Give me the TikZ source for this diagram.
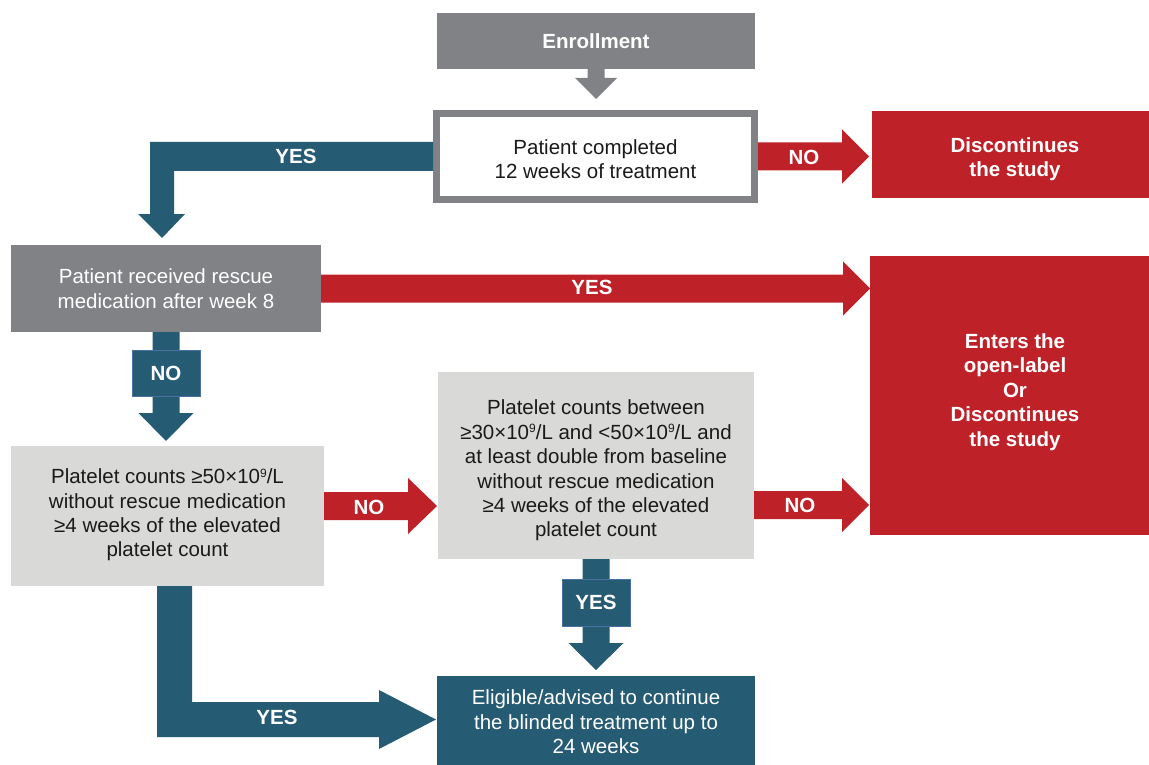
\documentclass[tikz,border=0pt]{standalone}
\usepackage{fontspec}
\setmainfont{Liberation Sans}
\usetikzlibrary{calc}
\definecolor{grayc}{HTML}{818286}
\definecolor{lightc}{HTML}{D9D9D8}
\definecolor{tealc}{HTML}{265B74}
\definecolor{redc}{HTML}{BE2128}
\definecolor{textc}{HTML}{1A1A1A}
\definecolor{labedge}{HTML}{4A72A0}
\newcommand\harr[6]{\fill[#1] let \p1=(#2), \p2=(#3) in (\x1,\y1+#4) -- (\x2-#6,\y1+#4) -- (\x2-#6,\y1+#5) -- (\x2,\y1) -- (\x2-#6,\y1-#5) -- (\x2-#6,\y1-#4) -- (\x1,\y1-#4) -- cycle;}
\newcommand\varr[6]{\fill[#1] let \p1=(#2), \p2=(#3) in (\x1-#4,\y1) -- (\x1-#4,\y2+#6) -- (\x1-#5,\y2+#6) -- (\x1,\y2) -- (\x1+#5,\y2+#6) -- (\x1+#4,\y2+#6) -- (\x1+#4,\y1) -- cycle;}
\newcommand\supnine{\raisebox{6.5pt}{\fontsize{12}{12}\selectfont 9}}
\begin{document}
\begin{tikzpicture}[x=1pt,y=-1pt,
  every node/.style={font=\fontsize{20.5}{24.4}\selectfont, inner sep=0pt, outer sep=0pt, align=center},
  bfont/.style={font=\fontsize{20.5}{24.4}\selectfont\bfseries},
  graybox/.style={fill=grayc, text=white},
  lightbox/.style={fill=lightc, text=textc},
  redbox/.style={fill=redc, text=white, bfont},
  tealbox/.style={fill=tealc, text=white},
  lab/.style={text=white, bfont},
  labbox/.style={fill=tealc, draw=labedge, line width=1pt, text=white, bfont, minimum width=68pt, minimum height=46pt}]
\useasboundingbox (0,0) rectangle (1149,765);
\clip (0,0) rectangle (1149,765);
\fill[white] (0,0) rectangle (1149,765);

% boxes
\node[graybox, bfont, minimum width=318pt, minimum height=56pt] (enroll) at (596,41) {Enrollment};
\node[draw=grayc, line width=7pt, fill=white, text=textc, minimum width=318pt, minimum height=86pt, outer sep=3.5pt] (done) at (595.5,156.5) {};
\node[text=textc] (donetext) at (595.5,159) {Patient completed\\12 weeks of treatment};
\node[redbox, minimum width=288pt, minimum height=87pt] (disc) at (1016,154.5) {};
\node[lab] (disctext) at (1015,159.5) {Discontinues\\the study};
\node[graybox, minimum width=310pt, minimum height=87pt] (rec) at (166,288.5) {Patient received rescue\\medication after week 8};
\node[redbox, minimum width=290pt, minimum height=279pt] (big) at (1015,395.5) {};
\node[lab] (bigtext) at (1015,392) {Enters the\\open-label\\Or\\Discontinues\\the study};
\node[lightbox, minimum width=313pt, minimum height=140pt] (light) at (167.5,516) {};
\node[text=textc] (lighttext) at (167.5,515) {Platelet counts ≥50×10\supnine/L\\without rescue medication\\≥4 weeks of the elevated\\platelet count};
\node[lightbox, minimum width=316pt, minimum height=187pt] (mid) at (596,465.5) {};
\node[text=textc] (midtext) at (596,470.5) {Platelet counts between\\≥30×10\supnine/L and <50×10\supnine/L and\\at least double from baseline\\without rescue medication\\≥4 weeks of the elevated\\platelet count};
\node[tealbox, minimum width=318pt, minimum height=92pt] (elig) at (596,722) {Eligible/advised to continue\\the blinded treatment up to\\24 weeks};

% arrows
\varr{grayc}{enroll.south}{$(done.north)+(0,-11)$}{8.5pt}{21pt}{21pt}
\fill[tealc] let \p1=(done.west), \p2=($(rec.north)+(-4,-7)$) in (\x1,\y1+14.5pt) -- (\x2-12pt,\y1+14.5pt) -- (\x2-12pt,\y2+24pt) -- (\x2-24pt,\y2+24pt) -- (\x2,\y2) -- (\x2+23pt,\y2+24pt) -- (\x2+12pt,\y2+24pt) -- (\x2+12pt,\y1-14.5pt) -- (\x1,\y1-14.5pt) -- cycle;
\node[lab] (yes1) at (296,156) {YES};
\harr{redc}{done.east}{$(disc.west)+(-3,0)$}{14pt}{27pt}{27pt}
\node[lab] (no1) at (804,157) {NO};
\harr{redc}{rec.east}{big.west}{14pt}{27pt}{27pt}
\node[lab] (yes2) at (592,287) {YES};
\varr{tealc}{rec.south}{$(light.north)+(0,-5)$}{13.5pt}{27.5pt}{28pt}
\node[labbox] (no2) at ($(rec.south)+(0,41)$) {NO};
\harr{redc}{$(light.east)+(0,-10)$}{$(mid.west)+(-1,0)$}{14pt}{28pt}{29pt}
\node[lab] (no3) at (369,507) {NO};
\harr{redc}{$(mid.east)+(0,39.5)$}{$(big.west)+(-1,0)$}{14pt}{27pt}{27pt}
\node[lab] (no4) at (800,505) {NO};
\varr{tealc}{mid.south}{$(elig.north)+(0,-6)$}{13.5pt}{27.5pt}{27pt}
\node[labbox, minimum height=47pt] (yes3) at ($(mid.south)+(0,43.5)$) {YES};
\fill[tealc] let \p1=($(light.south)+(7,0)$), \p2=($(elig.west)+(-1,-2.5)$) in (\x1-17.5pt,\y1) -- (\x1-17.5pt,\y2-17.5pt) -- (\x2-57pt,\y2-17.5pt) -- (\x2-57pt,\y2-29.5pt) -- (\x2,\y2) -- (\x2-57pt,\y2+29.5pt) -- (\x2-57pt,\y2+17.5pt) -- (\x1+17.5pt,\y2+17.5pt) -- (\x1+17.5pt,\y1) -- cycle;
\node[lab] (yes4) at (277,717) {YES};
\end{tikzpicture}
\end{document}
